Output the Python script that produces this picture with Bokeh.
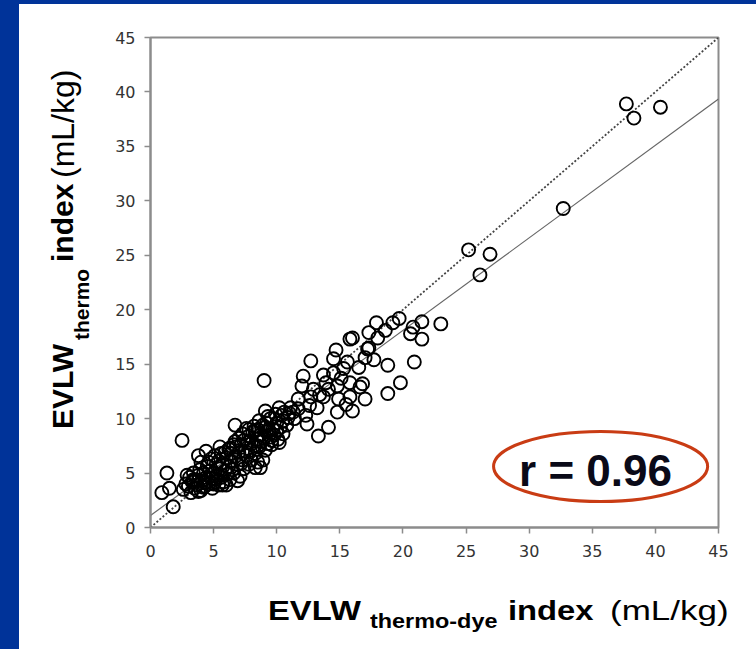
from bokeh.plotting import figure
from bokeh.models import Range1d, SingleIntervalTicker, Label, Spacer, Div
from bokeh.layouts import column, row
from bokeh.embed import file_html
from bokeh.resources import INLINE

# ---- data ----
x_thermo_dye = [
    37.7, 38.3, 40.4, 32.7, 25.2, 26.9, 26.1,
    19.7, 19.2, 17.9, 21.5, 23.0, 20.8, 20.6, 21.5, 18.6, 17.3, 16.0, 17.2, 15.8,
    20.9, 18.8, 19.8, 18.8, 17.3, 14.7, 14.5, 15.6, 16.5, 17.0, 17.7, 12.7, 12.1,
    13.7, 14.5, 15.1, 15.8, 16.8, 12.0, 12.9, 14.1, 14.8, 12.7, 13.7, 14.9, 15.8,
    17.0, 13.2, 14.8, 16.0, 12.3, 11.1, 10.2, 9.1, 11.4, 12.4, 14.1, 13.3, 10.4,
    9.5, 10.8, 9.1, 8.3, 9.0, 16.6, 18.0, 13.9, 15.3, 13.4, 11.7, 12.6, 15.5,
    2.5, 1.3, 0.9, 1.5, 1.8, 3.8, 4.4, 5.5, 6.7, 6.9, 8.7, 8.9,
    2.6, 2.8, 3.0, 3.1, 3.2, 3.3, 3.4, 3.5, 2.9, 3.6,
    3.7, 3.8, 3.9, 4.0, 4.1, 4.2, 4.3, 4.4, 4.5, 3.8, 4.0, 4.3,
    4.6, 4.7, 4.8, 4.9, 5.0, 5.1, 5.2, 5.3, 5.4, 5.5, 4.8, 5.0, 5.2, 5.4,
    5.6, 5.7, 5.8, 5.9, 6.0, 6.1, 6.2, 6.3, 6.4, 6.5, 5.6, 6.0, 6.2, 6.4,
    6.6, 6.7, 6.8, 6.9, 7.0, 7.1, 7.2, 7.3, 7.4, 7.5, 6.7, 7.0, 7.2, 7.4,
    7.6, 7.7, 7.8, 7.9, 8.0, 8.1, 8.2, 8.3, 8.4, 8.5, 7.6, 8.0, 8.3, 8.5, 7.8,
    8.6, 8.7, 8.8, 8.9, 9.0, 9.1, 9.2, 9.3, 9.4, 9.5, 9.3,
    9.6, 9.7, 9.8, 10.0, 10.1, 10.3, 10.6, 10.9, 11.0, 10.2, 10.5,
    6.3, 6.6, 7.3, 7.8, 8.2, 8.6, 9.9, 10.5, 11.3, 11.7, 5.9, 5.1, 4.6, 3.4,
    4.2, 5.7, 9.6, 10.0, 9.2, 8.5,
]
y_thermo = [
    38.9, 37.6, 38.6, 29.3, 25.5, 25.1, 23.2,
    19.2, 18.8, 18.8, 18.9, 18.7, 18.4, 17.8, 17.3, 18.1, 17.9, 17.4, 16.4, 17.3,
    15.2, 14.9, 13.3, 12.3, 16.5, 16.3, 15.5, 15.2, 14.7, 15.6, 15.4, 15.3, 13.9,
    14.0, 14.2, 13.7, 13.3, 13.2, 13.0, 12.7, 12.7, 13.0, 12.0, 12.0, 11.8, 12.0,
    11.8, 11.0, 10.6, 10.7, 10.3, 11.0, 11.0, 10.7, 10.0, 9.5, 9.2, 8.4, 10.3,
    10.0, 9.4, 9.2, 8.9, 13.5, 12.9, 17.4, 13.3, 14.6, 12.2, 11.8, 11.2, 11.3,
    8.0, 5.0, 3.2, 3.6, 1.9, 6.6, 7.0, 7.4, 9.4, 4.3, 5.5, 6.2,
    3.5, 4.0, 3.8, 4.6, 3.2, 4.2, 5.0, 3.6, 4.8, 4.4,
    3.9, 4.8, 5.3, 3.4, 4.3, 5.0, 3.8, 4.6, 5.6, 3.3, 6.0, 4.1,
    4.0, 5.2, 4.5, 3.6, 5.0, 4.2, 5.8, 4.8, 3.9, 5.4, 6.3, 4.0, 4.4, 6.1,
    4.6, 5.9, 4.2, 5.2, 6.4, 4.9, 5.6, 4.4, 6.8, 5.3, 6.8, 3.9, 7.2, 6.1,
    5.0, 6.5, 7.4, 5.8, 6.9, 4.7, 7.6, 6.2, 5.4, 7.0, 7.9, 8.2, 5.9, 8.0,
    6.6, 7.8, 8.4, 7.1, 6.2, 8.8, 7.5, 6.8, 8.1, 9.0, 9.1, 7.7, 5.5, 6.0, 5.8,
    7.4, 8.5, 7.9, 9.4, 8.2, 7.1, 8.8, 7.7, 8.9, 8.3, 10.2,
    7.6, 9.0, 8.5, 9.6, 8.1, 9.2, 10.6, 10.1, 10.5, 7.8, 8.6,
    7.3, 7.6, 8.6, 9.0, 9.3, 9.8, 10.4, 9.8, 10.6, 10.9, 6.9, 6.6, 6.0, 4.4,
    3.7, 3.9, 8.0, 8.9, 9.6, 7.5,
]
identity_x = [0, 45]
identity_y = [0, 45]
fit_x = [0, 45]
fit_y = [1.1, 39.35]
r_text = "r = 0.96"

BLUE = "#003399"
GREY = "#8c8c8c"
FONT = "'Liberation Sans', Arial, sans-serif"

p = figure(width=657, height=571, output_backend="svg", toolbar_location=None,
           x_range=Range1d(0, 45), y_range=Range1d(0, 45),
           min_border_left=51, min_border_right=38,
           min_border_top=33, min_border_bottom=48)
p.background_fill_color = "white"
p.border_fill_color = "white"
p.outline_line_color = GREY
p.outline_line_width = 2
p.grid.visible = False

for ax in (p.xaxis[0], p.yaxis[0]):
    ax.ticker = SingleIntervalTicker(interval=5, num_minor_ticks=0)
    ax.axis_line_color = GREY
    ax.axis_line_width = 2
    ax.major_tick_line_color = GREY
    ax.major_tick_line_width = 1.5
    ax.major_tick_out = 6
    ax.major_tick_in = 0
    ax.minor_tick_line_color = None
    ax.major_label_text_font = "DejaVu Sans"
    ax.major_label_text_font_size = "16px"
    ax.major_label_text_color = "#333333"
p.xaxis.major_label_standoff = 11
p.yaxis.major_label_standoff = 9

# identity (dotted) and regression (solid) lines
p.line(identity_x, identity_y, line_color="#444444", line_width=1.8, line_dash="2 2")
p.line(fit_x, fit_y, line_color="#666666", line_width=1.2)

# data points
p.scatter(x_thermo_dye, y_thermo, marker="circle", size=13, fill_color=None,
          line_color="black", line_width=1.9)

# r annotation with ellipse
p.ellipse(x=[35.66], y=[5.6], width=[16.96], height=[6.43], fill_color=None,
          line_color="#c93c14", line_width=3)
p.add_layout(Label(x=445, y=57, x_units="screen", y_units="screen", text=r_text,
                   text_font="Liberation Sans", text_font_style="bold",
                   text_font_size="44px", text_color="#0a0a18",
                   text_align="center", text_baseline="alphabetic"))


def piece(text, left, top, size, bold=True, rotate=False, stretch=1.0):
    if rotate:
        tr = "transform:rotate(-90deg);transform-origin:0 0;"
    else:
        tr = f"transform:scaleX({stretch});transform-origin:0 0;"
    weight = "bold" if bold else "normal"
    return (f'<span style="position:absolute;left:{left}px;top:{top}px;'
            f'font-family:{FONT};font-size:{size}px;font-weight:{weight};'
            f'line-height:{size}px;white-space:nowrap;color:#000;{tr}">{text}</span>')


S = 1.17
x_title = ('<div style="position:relative;width:737px;height:74px;">'
           + piece("EVLW", 249, 22, 28, stretch=S)
           + piece("thermo-dye", 351, 36, 20, stretch=S)
           + piece("index", 489, 22, 28, stretch=S)
           + piece("(mL/kg)", 591, 22, 28, bold=False, stretch=1.25)
           + '</div>')

y_title = ('<div style="position:relative;width:80px;height:571px;">'
           + piece("EVLW", 29, 425, 30, rotate=True)
           + piece("thermo", 52, 336, 21, rotate=True)
           + piece("index", 29, 258, 30, rotate=True)
           + piece("(mL/kg)", 28, 174, 32, bold=False, rotate=True)
           + '</div>')

ydiv = Div(text=y_title, width=80, height=571, margin=0)
xdiv = Div(text=x_title, width=737, height=74, margin=0)

top = Spacer(width=756, height=4, margin=0, styles={"background-color": BLUE})
left = Spacer(width=19, height=645, margin=0, styles={"background-color": BLUE})
layout = column(top, row(left, column(row(ydiv, p), xdiv)))

open("out.html", "w").write(file_html(layout, INLINE))
